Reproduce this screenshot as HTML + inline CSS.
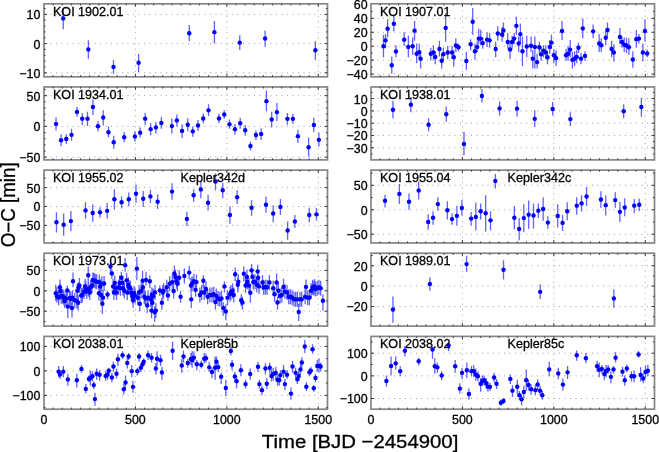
<!DOCTYPE html>
<html><head><meta charset="utf-8"><style>html,body{margin:0;padding:0;background:#fff;width:659px;height:452px;overflow:hidden}svg{display:block;filter:blur(0.35px)}</style></head>
<body><svg width="659" height="452" viewBox="0 0 659 452">
<rect width="659" height="452" fill="#fff"/>
<path d="M45 72.8H326.5M45 43.6H326.5M45 14.4H326.5M135.41 4.8V75.8M226.83 4.8V75.8M318.25 4.8V75.8M45 157.15H326.5M45 126.4H326.5M45 95.65H326.5M135.41 87.95V158.9M226.83 87.95V158.9M318.25 87.95V158.9M45 225.4H326.5M45 206.5H326.5M45 187.6H326.5M135.41 171.1V242M226.83 171.1V242M318.25 171.1V242M45 311.2H326.5M45 290.8H326.5M45 270.4H326.5M135.41 254.25V325.1M226.83 254.25V325.1M318.25 254.25V325.1M45 395.4H326.5M45 370.9H326.5M45 346.4H326.5M135.41 337.4V408.2M226.83 337.4V408.2M318.25 337.4V408.2M372 74.1H653.5M372 60.15H653.5M372 46.2H653.5M372 32.25H653.5M372 18.3H653.5M462.41 4.8V75.8M553.83 4.8V75.8M645.25 4.8V75.8M372 147.8H653.5M372 135.5H653.5M372 123.2H653.5M372 110.9H653.5M372 98.6H653.5M462.41 87.95V158.9M553.83 87.95V158.9M645.25 87.95V158.9M372 234.2H653.5M372 209.75H653.5M372 185.3H653.5M462.41 171.1V242M553.83 171.1V242M645.25 171.1V242M372 306.5H653.5M372 286.1H653.5M372 265.7H653.5M462.41 254.25V325.1M553.83 254.25V325.1M645.25 254.25V325.1M372 398.5H653.5M372 375.85H653.5M372 353.2H653.5M462.41 337.4V408.2M553.83 337.4V408.2M645.25 337.4V408.2" stroke="#a0a0a0" stroke-width="1" stroke-dasharray="1 4.5" fill="none"/>
<path d="M63.23 8.12V29.32M88.36 40.24V58.82M113.49 59.91V73.68M138.62 53.79V71.93M189.28 24.95V41.34M214.41 21.01V43.52M239.76 35.22V50.08M265.11 30.41V46.8M315.37 40.9V59.91M56.02 117.34V130.45M61.05 134.17V146.19M66.29 134.17V144M71.53 128.71V140.73M77 106.85V116.69M82.24 112.97V124.99M87.49 111.66V126.08M92.95 99.2V114.94M97.98 121.06V131.33M103.22 110.13V125.43M108.47 126.52V137.45M113.71 135.7V148.81M124.2 131.98V142.26M134.91 131.33V141.82M140.15 127.61V137.45M145.18 112.75V124.99M150.64 123.24V135.26M155.89 121.71V133.51M161.35 117.12V128.71M171.84 118.44V133.51M176.87 114.5V126.52M182.11 124.34V138.1M187.75 118.22V131.33M192.77 126.52V136.79M198.02 119.97V130.89M203.26 113.85V123.24M208.51 104.23V116.03M219 113.85V123.24M224.24 110.13V118.87M229.49 119.53V128.71M234.95 123.9V134.83M240.2 117.78V128.71M245.22 124.99V135.7M250.47 141.38V150.56M255.93 130.45V140.07M261.17 128.27V140.07M266.42 90.46V111.22M271.66 111.66V127.61M276.91 102.92V121.06M287.4 112.97V124.77M292.86 113.85V123.9M297.89 129.8V142.91M308.6 137.45V156.68M313.84 117.78V131.98M318.87 132.64V146.63M56.46 212.36V232.47M63.67 213.45V235.74M70.88 211.05V231.37M85.52 202.31V218.7M92.73 204.49V221.76M99.94 207.34V217.83M107.16 202.97V218.7M114.37 189.2V209.52M121.58 196.41V208.43M128.79 192.48V206.24M136 184.39V202.97M143.21 190.95V206.9M150.42 189.85V202.97M157.64 194.22V209.08M172.06 183.3V199.69M186.87 211.71V225.91M193.65 189.2V201.87M200.86 181.55V198.16M208.07 194.66V210.61M215.5 173.46V190.29M222.71 182.86V198.16M229.92 206.24V223.73M237.14 190.29V204.06M251.56 200.34V215.64M265.98 196.41V212.8M273.19 205.15V222.2M280.41 199.03V214.98M287.62 221.54V239.68M294.83 214.98V228.1M309.25 207.77V222.2M316.46 207.99V220.45M55.74 284.68V301.09M56.95 287.27V302.81M58.68 290.13V305.13M59.89 279.5V294.18M60.41 283.57V298.57M61.27 288.75V303.75M62.65 288.75V303.75M63.86 290.13V305.13M64.73 294.18V307.99M66.11 291V306M67.32 285.54V295.91M67.83 300.22V318.36M69.56 290.48V305.48M70.77 291.51V306.51M71.98 302.81V317.49M72.5 290.13V305.13M73.02 272.59V287.27M74.74 292.72V307.72M76.82 293.59V308.59M77.33 283.22V298.22M78.2 295.31V310.31M78.54 282.09V292.45M79.41 278.04V293.04M81.13 288.06V303.06M82.34 287.54V302.54M84.07 284.09V299.09M85.11 278.91V293.91M85.8 280.63V295.63M86.83 284.09V299.09M88.21 266.54V283.82M88.56 281.84V296.84M89.77 284.95V299.95M90.63 279.77V294.77M92.01 278.04V293.04M92.88 272.52V287.52M94.09 272.86V287.86M95.3 273.72V288.72M96.68 274.24V289.24M98.92 285.81V300.81M99.27 274.59V289.59M100.13 278.91V293.91M100.99 287.54V302.54M101.86 276.32V291.32M102.38 297.63V314.04M103.07 290.13V305.13M104.1 275.97V290.97M107.56 290.72V299.36M110.49 262.23V274.32M111.88 269.13V278.63M113.08 278.91V293.91M113.95 284.95V299.95M114.81 275.45V290.45M115.68 280.63V295.63M116.54 284.95V299.95M118.61 279.77V294.77M119.65 275.45V290.45M120.51 280.63V295.63M121.37 271.73V283.82M122.58 275.45V290.45M123.1 280.63V295.63M124.31 283.22V298.22M125.17 257.91V271.73M126.56 272.86V287.86M127.25 284.95V299.95M128.28 277.18V292.18M128.97 279.77V294.77M130.36 280.63V295.63M131.22 285.3V300.3M132.43 288.75V303.75M133.12 292.72V307.72M134.16 285.81V300.81M135.19 288.41V303.41M136.86 257.04V280.36M137.73 290.13V305.13M139.11 284.95V299.95M139.8 296.18V311.18M141.18 283.22V298.22M142.56 270.86V287.27M142.91 279.77V294.77M144.29 289.27V304.27M145.5 291V306M146.02 271.73V285.54M147.23 297.9V312.9M148.09 290.13V305.13M149.82 275.18V288.13M150.68 291.86V306.86M151.54 302.81V318.36M151.89 287.54V302.54M152.41 295.31V310.31M153.27 288.75V303.75M154.65 306.27V321.81M155.86 303.09V318.09M155 284.95V299.95M159.83 285.54V295.91M161.91 297.63V309.72M162.77 284.95V299.95M163.63 283.22V298.22M166.74 279.77V294.77M167.95 289.86V301.09M169.68 276.32V291.32M172.27 274.59V289.59M173.65 283.57V298.57M174.34 265.68V282.09M175.38 269.41V284.41M176.59 273.72V288.72M177.45 276.32V291.32M179.18 270.27V285.27M180.56 290.72V302.81M184.36 268.54V283.54M189.2 265.68V279.5M191.27 293.31V307.99M190.92 278.04V293.04M192.13 276.32V291.32M193.86 273.72V288.72M195.59 283.82V296.77M196.45 274.59V289.59M199.9 287.54V302.54M201.63 284.95V299.95M203.36 275.18V288.13M204.22 284.95V299.95M205.95 281.5V296.5M207.68 289.27V304.27M209.92 287.54V302.54M211.99 287.54V302.54M213.72 286.68V301.68M215.45 294.45V309.45M216.31 288.41V303.41M218.04 291V306M219.77 291.86V306.86M221.49 291V306M223.22 301.95V315.77M224.43 281.22V292.45M225.81 304.54V320.08M227.54 290.13V305.13M230.13 286.68V301.68M230.86 284.95V299.95M232.59 283.22V298.22M233.8 287.54V302.54M235.18 267.41V281.22M237.77 276.91V292.45M238.29 274.24V289.24M241.23 294.18V306.27M242.44 296.77V309.72M243.82 266.54V281.22M245.54 278.04V293.04M246.93 269.41V284.41M247.27 274.24V289.24M249 278.04V293.04M250.38 285.54V302.81M251.59 263.95V276.91M252.45 269.41V284.41M253.32 274.59V289.59M255.04 274.24V289.24M256.77 277.18V292.18M257.63 264.82V277.77M258.15 270.27V285.27M259.02 278.91V293.91M262.47 274.93V289.93M263.68 279.77V294.77M265.41 279.77V294.77M267.13 279.77V294.77M269.38 274.93V289.93M273.18 280.63V295.63M274.56 286.68V301.68M276.63 273.45V290.72M277.5 296.77V309.72M278.36 283.22V298.22M280.09 288.41V303.41M281.81 287.54V302.54M283.54 278.63V294.18M284.92 284.09V299.09M286.99 284.95V299.95M288.72 289.27V304.27M290.45 289.27V304.27M292.18 290.13V305.13M293.9 291.86V306.86M295.63 291.86V306.86M297.36 291.86V306.86M298.74 303.68V320.95M299.95 291.86V306.86M301.68 291.86V306.86M305.13 289.27V304.27M305.99 279.5V294.18M307.72 290.13V305.13M309.45 290.13V305.13M311.17 283.22V298.22M312.56 279.77V294.77M313.77 280.63V295.63M314.63 278.91V293.91M315.49 281.5V296.5M317.22 280.63V295.63M318.95 279.77V294.77M320.67 280.63V295.63M322.92 294.18V310.59M58.68 365.95V377.18M60.06 370.27V378.91M63.34 365.95V377.18M67.83 373.72V385.81M76.82 373.38V387.54M81.48 365.09V372.86M85.8 384.09V393.59M88.91 375.45V382.36M90.29 370.54V385.54M92.36 371.13V381.5M93.74 381.5V389.27M94.95 392.72V405.68M96.68 368.54V379.77M99.61 370.27V380.63M105.66 371.13V380.63M107.56 369.41V379.77M108.77 367.68V374.07M111.88 372.86V382.36M113.43 361.63V372M116.54 368.54V378.56M117.92 353.86V365.95M122.58 351.27V359.04M123.79 384.09V394.45M125.52 375.45V389.27M127.25 358.18V368.54M128.63 353V359.91M131.74 365.09V377.18M132.95 380.63V392.72M137.38 367.68V375.45M139.11 353V361.63M140.84 364.22V372M142.56 360.77V368.54M143.77 358.18V365.09M148.09 350.41V359.91M151.54 353V362.5M155.86 363.36V374.59M157.07 351.27V365.95M160.53 354.73V365.95M161.91 366.82V379.77M172.61 341.77V359.91M181.77 359.04V372.86M183.5 350.41V362.5M187.81 359.04V367.68M190.92 353V365.09M192.13 351.27V367.68M193.86 351.27V363.36M196.79 359.91V370.27M201.28 360.77V368.54M204.22 353V363.36M205.95 353.86V362.5M209.23 361.63V372M211.99 367.68V378.04M215.1 356.45V379.77M216.48 356.45V367.68M218.21 363.36V372M221.15 372.86V384.09M225.81 379.77V396.18M230.86 346.95V355.59M232.07 359.91V370.27M234.84 372V381.5M236.56 376.31V388.4M240.88 364.22V376.31M245.54 379.77V388.4M250.21 368.54V379.77M257.98 361.63V372M259.36 379.77V388.4M261.95 385.81V395.31M265.41 363.36V374.59M266.79 378.04V389.27M269.72 362.5V373.72M271.45 369.41V381.5M273.18 367.68V380.63M275.77 366.82V378.91M277.5 374.59V385.81M279.22 375.45V385.81M280.43 370.27V379.77M283.54 365.09V378.04M284.92 378.91V390.13M286.99 370.27V378.91M290.97 387.54V399.63M292.52 360.77V372.86M295.63 367.68V378.04M297.36 375.45V384.09M298.74 371.13V380.63M300.47 364.22V374.59M301.85 357.32V367.68M304.78 340.04V353M306.34 382.36V390.99M309.45 368.54V376.31M310.83 366.82V374.59M312.56 344.36V353.86M313.77 384.95V391.86M315.49 373.72V382.36M317.22 359.91V372M318.95 358.18V372.86M320.67 362.5V371.13M383.47 34.82V57.27M385.54 33.95V48.29M387.62 19.27V37.41M391.76 56.4V73.68M393.83 15.82V31.36M395.91 45.18V57.61M404.2 32.22V46.04M408.34 35.68V57.27M412.66 37.41V54.68M414.56 21V40.86M416.63 43.45V63.31M419.22 43.45V58.99M420.6 52.09V68.49M430.79 47.77V60.38M433.39 45.18V59.86M435.28 51.22V64.18M439.43 40.86V56.4M441.68 53.81V68.49M443.4 47.77V60.72M445.65 13.23V41.72M447.72 46.04V58.99M452.04 46.04V58.99M453.77 50.36V66.77M455.84 38.27V52.09M458.43 43.45V51.22M466.32 52.09V69.7M470.64 39.13V50.36M472.71 8.04V34.82M474.95 43.45V59.86M477.2 40.86V52.09M478.75 28.77V44.31M480.65 29.63V45.18M482.73 37.41V48.63M487.04 32.22V46.91M489.63 33.09V47.77M495.68 41.72V57.27M497.75 26.18V40.86M502.07 27.04V41.72M503.45 22.38V37.41M507.77 33.09V48.63M510.01 42.59V58.99M512.09 35.68V48.63M514.16 33.09V44.31M516.4 16.68V34.82M518.65 36.54V52.09M520.38 23.59V43.45M522.45 36.54V65.9M526.77 35.68V57.27M531.08 36.54V52.09M532.81 50.36V68.49M534.88 36.54V68.49M537.13 53.81V68.49M539.37 41.72V53.81M541.1 47.77V60.72M543.52 45.18V57.27M545.77 45.18V58.99M547.49 51.22V64.18M549.74 40V53.81M551.46 34.82V48.63M553.88 49.5V63.31M556.13 50.36V65.9M562.04 21V40M566.02 48.63V60.72M568.09 46.04V60.72M570.16 40V57.27M572.41 52.09V68.49M574.65 51.22V65.9M576.73 50.36V63.31M578.45 42.59V52.95M581.04 52.95V64.18M582.77 18.41V38.27M585.02 51.22V60.72M593.13 24.45V38.27M599.18 33.95V52.09M601.25 38.27V52.09M605.74 30.5V45.18M607.47 22.38V36.54M611.61 40.86V57.27M613.86 44.31V61.59M619.9 27.91V44.31M621.98 36.54V47.77M624.22 37.41V52.09M626.47 37.41V52.95M628.88 38.27V54.68M632.86 51.22V67.63M636.31 29.98V47.77M638.9 33.95V43.45M642.87 43.45V61.59M644.95 19.27V41.72M647.19 49.5V57.27M392.95 100.73V118.22M410.87 97.02V112.32M428.57 118.22V131.33M446.27 106.85V121.71M463.97 131.98V155.37M481.89 88.93V102.48M499.59 101.39V115.59M517.03 100.73V116.69M534.73 110.13V126.96M552.65 102.05V115.59M570.35 112.32V126.08M623.67 104.23V118.22M641.37 97.67V116.69M385.03 194.77V207.38M399.36 183.89V203.92M409.03 193.56V209.8M418.7 181.47V199.61M428.2 214.29V229.83M433.04 211.18V224.65M437.88 197.36V210.83M447.37 201.16V219.47M452.04 213.25V224.65M456.87 205.65V225.86M461.88 199.95V215.5M471.15 212.04V225.86M475.82 202.54V230.52M480.65 203.41V219.47M485.66 195.29V231.56M490.5 211.18V230.18M495.33 174.04V188.38M514.33 206V229.31M519.17 218.09V240.19M523.83 204.27V232.25M528.67 200.47V228.79M533.5 203.41V228.45M538.34 203.41V218.09M543.17 197.36V220.68M547.84 216.36V228.79M557.73 204.27V227.59M562.56 214.63V231.04M567.23 202.2V220.16M576.73 197.36V214.63M581.56 195.29V211.52M586.57 187V206M600.91 191.32V207.72M605.74 195.29V215.5M615.24 192.18V207.72M619.9 201.68V221.89M624.74 198.22V216.36M634.24 199.09V213.25M639.25 198.74V211.18M392.95 296.45V322.68M429.88 277.22V290.77M466.59 255.81V271.98M503.52 260.18V279.41M540.19 284.22V299.08M613.84 289.24V307.82M386.41 375.45V386.68M391.07 356.45V375.45M395.73 356.45V369.41M400.22 365.95V376.31M404.89 345.74V356.45M418.7 357.83V365.43M432.52 346.95V359.04M434.77 358.18V373.72M437.36 362.5V372.86M441.68 371.13V380.29M448.58 342.64V350.93M455.15 359.91V372.86M459.81 383.22V393.59M462.06 367.68V379.25M466.84 362.5V378.04M468.91 388.4V399.63M471.5 365.95V376.31M473.74 365.09V377.18M475.82 368.54V380.63M477.89 371.13V381.5M480.65 378.04V391.86M482.38 375.45V385.81M484.11 375.45V385.47M486.18 378.04V388.4M487.91 381.5V391.86M489.98 382.7V390.99M494.12 372.86V382.36M496.54 378.91V388.92M500.86 399.63V405.68M503.45 397.9V403.95M510.36 374.59V384.09M512.43 384.95V397.04M517.27 379.77V393.59M519.34 390.99V399.63M521.59 394.45V405.16M523.83 385.81V398.25M526.25 369.41V390.99M528.49 379.77V390.13M531.08 384.09V394.79M535.4 384.95V395.31M537.65 379.25V390.13M540.07 385.81V395.31M542.31 390.99V399.63M549.22 361.63V376.31M558.25 367.68V379.25M562.91 378.56V390.65M567.57 365.95V378.91M576.73 350.41V360.77M585.88 353V363.36M597.11 360.77V372M599.18 362.5V377.18M601.77 365.09V373.72M604.36 368.54V380.29M606.09 365.09V377.18M608.16 365.09V373.72M610.92 371.13V383.22M613.51 365.95V373.38M615.59 352.13V362.5M622.49 366.82V376.83M624.74 375.45V385.81M626.81 364.74V372.34M631.47 371.13V381.5M634.07 370.27V382.36M638.56 350.93V357.83M640.63 367.16V381.5M643.22 373.72V383.22M645.46 365.43V378.04M647.88 364.74V376.31" stroke="#6262ff" stroke-width="1.3" fill="none"/>
<g fill="#0000ff"><circle cx="63.23" cy="18.39" r="2.2"/><circle cx="88.36" cy="49.42" r="2.2"/><circle cx="113.49" cy="66.9" r="2.2"/><circle cx="138.62" cy="62.75" r="2.2"/><circle cx="189.28" cy="33.25" r="2.2"/><circle cx="214.41" cy="32.16" r="2.2"/><circle cx="239.76" cy="42.65" r="2.2"/><circle cx="265.11" cy="38.49" r="2.2"/><circle cx="315.37" cy="50.3" r="2.2"/><circle cx="56.02" cy="123.9" r="2.2"/><circle cx="61.05" cy="140.29" r="2.2"/><circle cx="66.29" cy="138.98" r="2.2"/><circle cx="71.53" cy="134.83" r="2.2"/><circle cx="77" cy="111.88" r="2.2"/><circle cx="82.24" cy="118.65" r="2.2"/><circle cx="87.49" cy="118.65" r="2.2"/><circle cx="92.95" cy="107.07" r="2.2"/><circle cx="97.98" cy="126.3" r="2.2"/><circle cx="103.22" cy="117.56" r="2.2"/><circle cx="108.47" cy="132.2" r="2.2"/><circle cx="113.71" cy="142.26" r="2.2"/><circle cx="124.2" cy="137.23" r="2.2"/><circle cx="134.91" cy="136.57" r="2.2"/><circle cx="140.15" cy="132.64" r="2.2"/><circle cx="145.18" cy="118.65" r="2.2"/><circle cx="150.64" cy="129.14" r="2.2"/><circle cx="155.89" cy="127.4" r="2.2"/><circle cx="161.35" cy="123.02" r="2.2"/><circle cx="171.84" cy="126.08" r="2.2"/><circle cx="176.87" cy="120.4" r="2.2"/><circle cx="182.11" cy="130.89" r="2.2"/><circle cx="187.75" cy="124.77" r="2.2"/><circle cx="192.77" cy="131.33" r="2.2"/><circle cx="198.02" cy="125.43" r="2.2"/><circle cx="203.26" cy="118.44" r="2.2"/><circle cx="208.51" cy="110.35" r="2.2"/><circle cx="219" cy="118.44" r="2.2"/><circle cx="224.24" cy="114.5" r="2.2"/><circle cx="229.49" cy="124.34" r="2.2"/><circle cx="234.95" cy="129.14" r="2.2"/><circle cx="240.2" cy="123.24" r="2.2"/><circle cx="245.22" cy="130.24" r="2.2"/><circle cx="250.47" cy="145.97" r="2.2"/><circle cx="255.93" cy="135.04" r="2.2"/><circle cx="261.17" cy="133.95" r="2.2"/><circle cx="266.42" cy="101.17" r="2.2"/><circle cx="271.66" cy="119.53" r="2.2"/><circle cx="276.91" cy="112.1" r="2.2"/><circle cx="287.4" cy="118.87" r="2.2"/><circle cx="292.86" cy="118.87" r="2.2"/><circle cx="297.89" cy="136.14" r="2.2"/><circle cx="308.6" cy="147.28" r="2.2"/><circle cx="313.84" cy="124.99" r="2.2"/><circle cx="318.87" cy="139.85" r="2.2"/><circle cx="56.46" cy="222.2" r="2.2"/><circle cx="63.67" cy="224.82" r="2.2"/><circle cx="70.88" cy="221.1" r="2.2"/><circle cx="85.52" cy="210.4" r="2.2"/><circle cx="92.73" cy="213.02" r="2.2"/><circle cx="99.94" cy="212.36" r="2.2"/><circle cx="107.16" cy="210.83" r="2.2"/><circle cx="114.37" cy="199.25" r="2.2"/><circle cx="121.58" cy="202.31" r="2.2"/><circle cx="128.79" cy="199.25" r="2.2"/><circle cx="136" cy="193.79" r="2.2"/><circle cx="143.21" cy="198.81" r="2.2"/><circle cx="150.42" cy="196.41" r="2.2"/><circle cx="157.64" cy="201.65" r="2.2"/><circle cx="172.06" cy="191.6" r="2.2"/><circle cx="186.87" cy="218.92" r="2.2"/><circle cx="193.65" cy="195.32" r="2.2"/><circle cx="200.86" cy="189.42" r="2.2"/><circle cx="208.07" cy="202.75" r="2.2"/><circle cx="215.5" cy="181.55" r="2.2"/><circle cx="222.71" cy="190.29" r="2.2"/><circle cx="229.92" cy="214.98" r="2.2"/><circle cx="237.14" cy="197.28" r="2.2"/><circle cx="251.56" cy="207.77" r="2.2"/><circle cx="265.98" cy="204.71" r="2.2"/><circle cx="273.19" cy="213.45" r="2.2"/><circle cx="280.41" cy="206.9" r="2.2"/><circle cx="287.62" cy="230.5" r="2.2"/><circle cx="294.83" cy="221.54" r="2.2"/><circle cx="309.25" cy="214.98" r="2.2"/><circle cx="316.46" cy="214.33" r="2.2"/><circle cx="55.74" cy="293.31" r="2.2"/><circle cx="56.95" cy="296.25" r="2.2"/><circle cx="58.68" cy="297.63" r="2.2"/><circle cx="59.89" cy="287.27" r="2.2"/><circle cx="60.41" cy="291.07" r="2.2"/><circle cx="61.27" cy="296.25" r="2.2"/><circle cx="62.65" cy="296.25" r="2.2"/><circle cx="63.86" cy="297.63" r="2.2"/><circle cx="64.73" cy="301.09" r="2.2"/><circle cx="66.11" cy="298.5" r="2.2"/><circle cx="67.32" cy="290.38" r="2.2"/><circle cx="67.83" cy="306.61" r="2.2"/><circle cx="69.56" cy="297.98" r="2.2"/><circle cx="70.77" cy="299.01" r="2.2"/><circle cx="71.98" cy="307.99" r="2.2"/><circle cx="72.5" cy="297.63" r="2.2"/><circle cx="73.02" cy="281.22" r="2.2"/><circle cx="74.74" cy="300.22" r="2.2"/><circle cx="76.82" cy="301.09" r="2.2"/><circle cx="77.33" cy="290.72" r="2.2"/><circle cx="78.2" cy="302.81" r="2.2"/><circle cx="78.54" cy="287.27" r="2.2"/><circle cx="79.41" cy="285.54" r="2.2"/><circle cx="81.13" cy="295.56" r="2.2"/><circle cx="82.34" cy="295.04" r="2.2"/><circle cx="84.07" cy="291.59" r="2.2"/><circle cx="85.11" cy="286.41" r="2.2"/><circle cx="85.8" cy="288.13" r="2.2"/><circle cx="86.83" cy="291.59" r="2.2"/><circle cx="88.21" cy="275.18" r="2.2"/><circle cx="88.56" cy="289.34" r="2.2"/><circle cx="89.77" cy="292.45" r="2.2"/><circle cx="90.63" cy="287.27" r="2.2"/><circle cx="92.01" cy="285.54" r="2.2"/><circle cx="92.88" cy="280.02" r="2.2"/><circle cx="94.09" cy="280.36" r="2.2"/><circle cx="95.3" cy="281.22" r="2.2"/><circle cx="96.68" cy="281.74" r="2.2"/><circle cx="98.92" cy="293.31" r="2.2"/><circle cx="99.27" cy="282.09" r="2.2"/><circle cx="100.13" cy="286.41" r="2.2"/><circle cx="100.99" cy="295.04" r="2.2"/><circle cx="101.86" cy="283.82" r="2.2"/><circle cx="102.38" cy="303.68" r="2.2"/><circle cx="103.07" cy="297.63" r="2.2"/><circle cx="104.1" cy="283.47" r="2.2"/><circle cx="107.56" cy="294.52" r="2.2"/><circle cx="110.49" cy="266.54" r="2.2"/><circle cx="111.88" cy="273.45" r="2.2"/><circle cx="113.08" cy="286.41" r="2.2"/><circle cx="113.95" cy="292.45" r="2.2"/><circle cx="114.81" cy="282.95" r="2.2"/><circle cx="115.68" cy="288.13" r="2.2"/><circle cx="116.54" cy="292.45" r="2.2"/><circle cx="118.61" cy="287.27" r="2.2"/><circle cx="119.65" cy="282.95" r="2.2"/><circle cx="120.51" cy="288.13" r="2.2"/><circle cx="121.37" cy="277.77" r="2.2"/><circle cx="122.58" cy="282.95" r="2.2"/><circle cx="123.1" cy="288.13" r="2.2"/><circle cx="124.31" cy="290.72" r="2.2"/><circle cx="125.17" cy="265.16" r="2.2"/><circle cx="126.56" cy="280.36" r="2.2"/><circle cx="127.25" cy="292.45" r="2.2"/><circle cx="128.28" cy="284.68" r="2.2"/><circle cx="128.97" cy="287.27" r="2.2"/><circle cx="130.36" cy="288.13" r="2.2"/><circle cx="131.22" cy="292.8" r="2.2"/><circle cx="132.43" cy="296.25" r="2.2"/><circle cx="133.12" cy="300.22" r="2.2"/><circle cx="134.16" cy="293.31" r="2.2"/><circle cx="135.19" cy="295.91" r="2.2"/><circle cx="136.86" cy="268.62" r="2.2"/><circle cx="137.73" cy="297.63" r="2.2"/><circle cx="139.11" cy="292.45" r="2.2"/><circle cx="139.8" cy="303.68" r="2.2"/><circle cx="141.18" cy="290.72" r="2.2"/><circle cx="142.56" cy="280.71" r="2.2"/><circle cx="142.91" cy="287.27" r="2.2"/><circle cx="144.29" cy="296.77" r="2.2"/><circle cx="145.5" cy="298.5" r="2.2"/><circle cx="146.02" cy="280.02" r="2.2"/><circle cx="147.23" cy="305.4" r="2.2"/><circle cx="148.09" cy="297.63" r="2.2"/><circle cx="149.82" cy="281.22" r="2.2"/><circle cx="150.68" cy="299.36" r="2.2"/><circle cx="151.54" cy="310.59" r="2.2"/><circle cx="151.89" cy="295.04" r="2.2"/><circle cx="152.41" cy="302.81" r="2.2"/><circle cx="153.27" cy="296.25" r="2.2"/><circle cx="154.65" cy="312.31" r="2.2"/><circle cx="155.86" cy="310.59" r="2.2"/><circle cx="155" cy="292.45" r="2.2"/><circle cx="159.83" cy="290.38" r="2.2"/><circle cx="161.91" cy="302.81" r="2.2"/><circle cx="162.77" cy="292.45" r="2.2"/><circle cx="163.63" cy="290.72" r="2.2"/><circle cx="166.74" cy="287.27" r="2.2"/><circle cx="167.95" cy="295.56" r="2.2"/><circle cx="169.68" cy="283.82" r="2.2"/><circle cx="172.27" cy="282.09" r="2.2"/><circle cx="173.65" cy="291.07" r="2.2"/><circle cx="174.34" cy="273.45" r="2.2"/><circle cx="175.38" cy="276.91" r="2.2"/><circle cx="176.59" cy="281.22" r="2.2"/><circle cx="177.45" cy="283.82" r="2.2"/><circle cx="179.18" cy="277.77" r="2.2"/><circle cx="180.56" cy="296.77" r="2.2"/><circle cx="184.36" cy="276.04" r="2.2"/><circle cx="189.2" cy="272.59" r="2.2"/><circle cx="191.27" cy="299.36" r="2.2"/><circle cx="190.92" cy="285.54" r="2.2"/><circle cx="192.13" cy="283.82" r="2.2"/><circle cx="193.86" cy="281.22" r="2.2"/><circle cx="195.59" cy="289.86" r="2.2"/><circle cx="196.45" cy="282.09" r="2.2"/><circle cx="199.9" cy="295.04" r="2.2"/><circle cx="201.63" cy="292.45" r="2.2"/><circle cx="203.36" cy="280.71" r="2.2"/><circle cx="204.22" cy="292.45" r="2.2"/><circle cx="205.95" cy="289" r="2.2"/><circle cx="207.68" cy="296.77" r="2.2"/><circle cx="209.92" cy="295.04" r="2.2"/><circle cx="211.99" cy="295.04" r="2.2"/><circle cx="213.72" cy="294.18" r="2.2"/><circle cx="215.45" cy="301.95" r="2.2"/><circle cx="216.31" cy="295.91" r="2.2"/><circle cx="218.04" cy="298.5" r="2.2"/><circle cx="219.77" cy="299.36" r="2.2"/><circle cx="221.49" cy="298.5" r="2.2"/><circle cx="223.22" cy="307.99" r="2.2"/><circle cx="224.43" cy="286.41" r="2.2"/><circle cx="225.81" cy="311.45" r="2.2"/><circle cx="227.54" cy="297.63" r="2.2"/><circle cx="230.13" cy="294.18" r="2.2"/><circle cx="230.86" cy="292.45" r="2.2"/><circle cx="232.59" cy="290.72" r="2.2"/><circle cx="233.8" cy="295.04" r="2.2"/><circle cx="235.18" cy="274.32" r="2.2"/><circle cx="237.77" cy="284.68" r="2.2"/><circle cx="238.29" cy="281.74" r="2.2"/><circle cx="241.23" cy="300.22" r="2.2"/><circle cx="242.44" cy="302.47" r="2.2"/><circle cx="243.82" cy="273.8" r="2.2"/><circle cx="245.54" cy="285.54" r="2.2"/><circle cx="246.93" cy="276.91" r="2.2"/><circle cx="247.27" cy="281.74" r="2.2"/><circle cx="249" cy="285.54" r="2.2"/><circle cx="250.38" cy="292.8" r="2.2"/><circle cx="251.59" cy="270.34" r="2.2"/><circle cx="252.45" cy="276.91" r="2.2"/><circle cx="253.32" cy="282.09" r="2.2"/><circle cx="255.04" cy="281.74" r="2.2"/><circle cx="256.77" cy="284.68" r="2.2"/><circle cx="257.63" cy="271.38" r="2.2"/><circle cx="258.15" cy="277.77" r="2.2"/><circle cx="259.02" cy="286.41" r="2.2"/><circle cx="262.47" cy="282.43" r="2.2"/><circle cx="263.68" cy="287.27" r="2.2"/><circle cx="265.41" cy="287.27" r="2.2"/><circle cx="267.13" cy="287.27" r="2.2"/><circle cx="269.38" cy="282.43" r="2.2"/><circle cx="273.18" cy="288.13" r="2.2"/><circle cx="274.56" cy="294.18" r="2.2"/><circle cx="276.63" cy="282.43" r="2.2"/><circle cx="277.5" cy="302.47" r="2.2"/><circle cx="278.36" cy="290.72" r="2.2"/><circle cx="280.09" cy="295.91" r="2.2"/><circle cx="281.81" cy="295.04" r="2.2"/><circle cx="283.54" cy="286.92" r="2.2"/><circle cx="284.92" cy="291.59" r="2.2"/><circle cx="286.99" cy="292.45" r="2.2"/><circle cx="288.72" cy="296.77" r="2.2"/><circle cx="290.45" cy="296.77" r="2.2"/><circle cx="292.18" cy="297.63" r="2.2"/><circle cx="293.9" cy="299.36" r="2.2"/><circle cx="295.63" cy="299.36" r="2.2"/><circle cx="297.36" cy="299.36" r="2.2"/><circle cx="298.74" cy="311.97" r="2.2"/><circle cx="299.95" cy="299.36" r="2.2"/><circle cx="301.68" cy="299.36" r="2.2"/><circle cx="305.13" cy="296.77" r="2.2"/><circle cx="305.99" cy="286.92" r="2.2"/><circle cx="307.72" cy="297.63" r="2.2"/><circle cx="309.45" cy="297.63" r="2.2"/><circle cx="311.17" cy="290.72" r="2.2"/><circle cx="312.56" cy="287.27" r="2.2"/><circle cx="313.77" cy="288.13" r="2.2"/><circle cx="314.63" cy="286.41" r="2.2"/><circle cx="315.49" cy="289" r="2.2"/><circle cx="317.22" cy="288.13" r="2.2"/><circle cx="318.95" cy="287.27" r="2.2"/><circle cx="320.67" cy="288.13" r="2.2"/><circle cx="322.92" cy="300.74" r="2.2"/><circle cx="58.68" cy="371.65" r="2.2"/><circle cx="60.06" cy="374.59" r="2.2"/><circle cx="63.34" cy="371.65" r="2.2"/><circle cx="67.83" cy="379.42" r="2.2"/><circle cx="76.82" cy="380.29" r="2.2"/><circle cx="81.48" cy="369.06" r="2.2"/><circle cx="85.8" cy="388.92" r="2.2"/><circle cx="88.91" cy="378.91" r="2.2"/><circle cx="90.29" cy="378.04" r="2.2"/><circle cx="92.36" cy="376.31" r="2.2"/><circle cx="93.74" cy="385.12" r="2.2"/><circle cx="94.95" cy="399.11" r="2.2"/><circle cx="96.68" cy="373.72" r="2.2"/><circle cx="99.61" cy="374.76" r="2.2"/><circle cx="105.66" cy="375.97" r="2.2"/><circle cx="107.56" cy="374.76" r="2.2"/><circle cx="108.77" cy="370.79" r="2.2"/><circle cx="111.88" cy="377.52" r="2.2"/><circle cx="113.43" cy="366.47" r="2.2"/><circle cx="116.54" cy="373.72" r="2.2"/><circle cx="117.92" cy="359.22" r="2.2"/><circle cx="122.58" cy="355.24" r="2.2"/><circle cx="123.79" cy="389.27" r="2.2"/><circle cx="125.52" cy="382.53" r="2.2"/><circle cx="127.25" cy="363.02" r="2.2"/><circle cx="128.63" cy="356.45" r="2.2"/><circle cx="131.74" cy="371.13" r="2.2"/><circle cx="132.95" cy="386.85" r="2.2"/><circle cx="137.38" cy="371.13" r="2.2"/><circle cx="139.11" cy="356.45" r="2.2"/><circle cx="140.84" cy="367.68" r="2.2"/><circle cx="142.56" cy="364.22" r="2.2"/><circle cx="143.77" cy="361.63" r="2.2"/><circle cx="148.09" cy="355.24" r="2.2"/><circle cx="151.54" cy="357.66" r="2.2"/><circle cx="155.86" cy="368.54" r="2.2"/><circle cx="157.07" cy="358.7" r="2.2"/><circle cx="160.53" cy="360.25" r="2.2"/><circle cx="161.91" cy="372.51" r="2.2"/><circle cx="172.61" cy="350.75" r="2.2"/><circle cx="181.77" cy="365.43" r="2.2"/><circle cx="183.5" cy="356.45" r="2.2"/><circle cx="187.81" cy="363.02" r="2.2"/><circle cx="190.92" cy="359.04" r="2.2"/><circle cx="192.13" cy="359.91" r="2.2"/><circle cx="193.86" cy="357.66" r="2.2"/><circle cx="196.79" cy="364.22" r="2.2"/><circle cx="201.28" cy="364.74" r="2.2"/><circle cx="204.22" cy="358.7" r="2.2"/><circle cx="205.95" cy="358.18" r="2.2"/><circle cx="209.23" cy="367.33" r="2.2"/><circle cx="211.99" cy="372" r="2.2"/><circle cx="215.1" cy="367.68" r="2.2"/><circle cx="216.48" cy="361.63" r="2.2"/><circle cx="218.21" cy="367.16" r="2.2"/><circle cx="221.15" cy="376.66" r="2.2"/><circle cx="225.81" cy="388.06" r="2.2"/><circle cx="230.86" cy="350.93" r="2.2"/><circle cx="232.07" cy="364.74" r="2.2"/><circle cx="234.84" cy="376.49" r="2.2"/><circle cx="236.56" cy="381.15" r="2.2"/><circle cx="240.88" cy="370.27" r="2.2"/><circle cx="245.54" cy="384.09" r="2.2"/><circle cx="250.21" cy="374.07" r="2.2"/><circle cx="257.98" cy="366.82" r="2.2"/><circle cx="259.36" cy="384.09" r="2.2"/><circle cx="261.95" cy="390.13" r="2.2"/><circle cx="265.41" cy="368.54" r="2.2"/><circle cx="266.79" cy="383.74" r="2.2"/><circle cx="269.72" cy="367.68" r="2.2"/><circle cx="271.45" cy="375.97" r="2.2"/><circle cx="273.18" cy="374.07" r="2.2"/><circle cx="275.77" cy="372.86" r="2.2"/><circle cx="277.5" cy="379.77" r="2.2"/><circle cx="279.22" cy="380.29" r="2.2"/><circle cx="280.43" cy="375.11" r="2.2"/><circle cx="283.54" cy="371.65" r="2.2"/><circle cx="284.92" cy="384.09" r="2.2"/><circle cx="286.99" cy="374.76" r="2.2"/><circle cx="290.97" cy="393.59" r="2.2"/><circle cx="292.52" cy="366.47" r="2.2"/><circle cx="295.63" cy="372.86" r="2.2"/><circle cx="297.36" cy="379.25" r="2.2"/><circle cx="298.74" cy="375.97" r="2.2"/><circle cx="300.47" cy="369.41" r="2.2"/><circle cx="301.85" cy="362.5" r="2.2"/><circle cx="304.78" cy="346.44" r="2.2"/><circle cx="306.34" cy="386.68" r="2.2"/><circle cx="309.45" cy="372.34" r="2.2"/><circle cx="310.83" cy="370.61" r="2.2"/><circle cx="312.56" cy="349.2" r="2.2"/><circle cx="313.77" cy="388.23" r="2.2"/><circle cx="315.49" cy="378.04" r="2.2"/><circle cx="317.22" cy="365.95" r="2.2"/><circle cx="318.95" cy="365.95" r="2.2"/><circle cx="320.67" cy="366.47" r="2.2"/><circle cx="383.47" cy="46.21" r="2.2"/><circle cx="385.54" cy="40.34" r="2.2"/><circle cx="387.62" cy="28.77" r="2.2"/><circle cx="391.76" cy="65.21" r="2.2"/><circle cx="393.83" cy="23.76" r="2.2"/><circle cx="395.91" cy="51.4" r="2.2"/><circle cx="404.2" cy="39.65" r="2.2"/><circle cx="408.34" cy="46.91" r="2.2"/><circle cx="412.66" cy="46.21" r="2.2"/><circle cx="414.56" cy="30.67" r="2.2"/><circle cx="416.63" cy="53.81" r="2.2"/><circle cx="419.22" cy="52.09" r="2.2"/><circle cx="420.6" cy="58.65" r="2.2"/><circle cx="430.79" cy="53.81" r="2.2"/><circle cx="433.39" cy="52.43" r="2.2"/><circle cx="435.28" cy="56.92" r="2.2"/><circle cx="439.43" cy="48.98" r="2.2"/><circle cx="441.68" cy="60.72" r="2.2"/><circle cx="443.4" cy="54.16" r="2.2"/><circle cx="445.65" cy="27.91" r="2.2"/><circle cx="447.72" cy="52.43" r="2.2"/><circle cx="452.04" cy="52.43" r="2.2"/><circle cx="453.77" cy="57.27" r="2.2"/><circle cx="455.84" cy="45.52" r="2.2"/><circle cx="458.43" cy="47.25" r="2.2"/><circle cx="466.32" cy="61.07" r="2.2"/><circle cx="470.64" cy="44.31" r="2.2"/><circle cx="472.71" cy="21.69" r="2.2"/><circle cx="474.95" cy="51.22" r="2.2"/><circle cx="477.2" cy="46.91" r="2.2"/><circle cx="478.75" cy="38.61" r="2.2"/><circle cx="480.65" cy="38.61" r="2.2"/><circle cx="482.73" cy="43.11" r="2.2"/><circle cx="487.04" cy="39.65" r="2.2"/><circle cx="489.63" cy="40.34" r="2.2"/><circle cx="495.68" cy="48.98" r="2.2"/><circle cx="497.75" cy="33.43" r="2.2"/><circle cx="502.07" cy="34.47" r="2.2"/><circle cx="503.45" cy="30.5" r="2.2"/><circle cx="507.77" cy="42.07" r="2.2"/><circle cx="510.01" cy="49.5" r="2.2"/><circle cx="512.09" cy="42.07" r="2.2"/><circle cx="514.16" cy="38.61" r="2.2"/><circle cx="516.4" cy="25.83" r="2.2"/><circle cx="518.65" cy="43.45" r="2.2"/><circle cx="520.38" cy="34.12" r="2.2"/><circle cx="522.45" cy="51.22" r="2.2"/><circle cx="526.77" cy="46.56" r="2.2"/><circle cx="531.08" cy="45.7" r="2.2"/><circle cx="532.81" cy="58.65" r="2.2"/><circle cx="534.88" cy="46.91" r="2.2"/><circle cx="537.13" cy="62.1" r="2.2"/><circle cx="539.37" cy="47.25" r="2.2"/><circle cx="541.1" cy="54.33" r="2.2"/><circle cx="543.52" cy="50.7" r="2.2"/><circle cx="545.77" cy="52.43" r="2.2"/><circle cx="547.49" cy="57.27" r="2.2"/><circle cx="549.74" cy="46.91" r="2.2"/><circle cx="551.46" cy="42.59" r="2.2"/><circle cx="553.88" cy="55.2" r="2.2"/><circle cx="556.13" cy="58.13" r="2.2"/><circle cx="562.04" cy="31.02" r="2.2"/><circle cx="566.02" cy="55.2" r="2.2"/><circle cx="568.09" cy="53.81" r="2.2"/><circle cx="570.16" cy="49.67" r="2.2"/><circle cx="572.41" cy="59.86" r="2.2"/><circle cx="574.65" cy="58.65" r="2.2"/><circle cx="576.73" cy="56.92" r="2.2"/><circle cx="578.45" cy="47.77" r="2.2"/><circle cx="581.04" cy="58.65" r="2.2"/><circle cx="582.77" cy="28.42" r="2.2"/><circle cx="585.02" cy="55.89" r="2.2"/><circle cx="593.13" cy="31.36" r="2.2"/><circle cx="599.18" cy="43.45" r="2.2"/><circle cx="601.25" cy="45.18" r="2.2"/><circle cx="605.74" cy="37.75" r="2.2"/><circle cx="607.47" cy="29.98" r="2.2"/><circle cx="611.61" cy="48.98" r="2.2"/><circle cx="613.86" cy="52.43" r="2.2"/><circle cx="619.9" cy="37.06" r="2.2"/><circle cx="621.98" cy="42.07" r="2.2"/><circle cx="624.22" cy="44.83" r="2.2"/><circle cx="626.47" cy="45.52" r="2.2"/><circle cx="628.88" cy="47.25" r="2.2"/><circle cx="632.86" cy="59.51" r="2.2"/><circle cx="636.31" cy="39.13" r="2.2"/><circle cx="638.9" cy="38.61" r="2.2"/><circle cx="642.87" cy="52.43" r="2.2"/><circle cx="644.95" cy="31.02" r="2.2"/><circle cx="647.19" cy="53.47" r="2.2"/><circle cx="392.95" cy="109.69" r="2.2"/><circle cx="410.87" cy="104.67" r="2.2"/><circle cx="428.57" cy="124.77" r="2.2"/><circle cx="446.27" cy="114.28" r="2.2"/><circle cx="463.97" cy="144" r="2.2"/><circle cx="481.89" cy="95.93" r="2.2"/><circle cx="499.59" cy="108.38" r="2.2"/><circle cx="517.03" cy="108.6" r="2.2"/><circle cx="534.73" cy="118.87" r="2.2"/><circle cx="552.65" cy="109.04" r="2.2"/><circle cx="570.35" cy="119.09" r="2.2"/><circle cx="623.67" cy="111.22" r="2.2"/><circle cx="641.37" cy="107.07" r="2.2"/><circle cx="385.03" cy="200.82" r="2.2"/><circle cx="399.36" cy="193.91" r="2.2"/><circle cx="409.03" cy="201.68" r="2.2"/><circle cx="418.7" cy="190.45" r="2.2"/><circle cx="428.2" cy="222.06" r="2.2"/><circle cx="433.04" cy="217.74" r="2.2"/><circle cx="437.88" cy="204.1" r="2.2"/><circle cx="447.37" cy="210.31" r="2.2"/><circle cx="452.04" cy="219.12" r="2.2"/><circle cx="456.87" cy="215.84" r="2.2"/><circle cx="461.88" cy="208.07" r="2.2"/><circle cx="471.15" cy="218.6" r="2.2"/><circle cx="475.82" cy="216.88" r="2.2"/><circle cx="480.65" cy="211.18" r="2.2"/><circle cx="485.66" cy="213.25" r="2.2"/><circle cx="490.5" cy="220.33" r="2.2"/><circle cx="495.33" cy="180.95" r="2.2"/><circle cx="514.33" cy="217.74" r="2.2"/><circle cx="519.17" cy="228.97" r="2.2"/><circle cx="523.83" cy="218.09" r="2.2"/><circle cx="528.67" cy="214.63" r="2.2"/><circle cx="533.5" cy="215.5" r="2.2"/><circle cx="538.34" cy="210.66" r="2.2"/><circle cx="543.17" cy="208.93" r="2.2"/><circle cx="547.84" cy="222.58" r="2.2"/><circle cx="557.73" cy="216.01" r="2.2"/><circle cx="562.56" cy="222.92" r="2.2"/><circle cx="567.23" cy="211.18" r="2.2"/><circle cx="576.73" cy="205.65" r="2.2"/><circle cx="581.56" cy="203.41" r="2.2"/><circle cx="586.57" cy="196.5" r="2.2"/><circle cx="600.91" cy="199.43" r="2.2"/><circle cx="605.74" cy="205.13" r="2.2"/><circle cx="615.24" cy="200.12" r="2.2"/><circle cx="619.9" cy="211.87" r="2.2"/><circle cx="624.74" cy="207.55" r="2.2"/><circle cx="634.24" cy="205.65" r="2.2"/><circle cx="639.25" cy="204.79" r="2.2"/><circle cx="392.95" cy="309.57" r="2.2"/><circle cx="429.88" cy="284" r="2.2"/><circle cx="466.59" cy="264.11" r="2.2"/><circle cx="503.52" cy="269.79" r="2.2"/><circle cx="540.19" cy="291.87" r="2.2"/><circle cx="613.84" cy="298.42" r="2.2"/><circle cx="386.41" cy="380.98" r="2.2"/><circle cx="391.07" cy="365.95" r="2.2"/><circle cx="395.73" cy="363.36" r="2.2"/><circle cx="400.22" cy="371.13" r="2.2"/><circle cx="404.89" cy="350.75" r="2.2"/><circle cx="418.7" cy="361.29" r="2.2"/><circle cx="432.52" cy="349.54" r="2.2"/><circle cx="434.77" cy="366.3" r="2.2"/><circle cx="437.36" cy="367.33" r="2.2"/><circle cx="441.68" cy="375.45" r="2.2"/><circle cx="448.58" cy="345.23" r="2.2"/><circle cx="455.15" cy="366.3" r="2.2"/><circle cx="459.81" cy="388.58" r="2.2"/><circle cx="462.06" cy="372.86" r="2.2"/><circle cx="466.84" cy="370.27" r="2.2"/><circle cx="468.91" cy="393.93" r="2.2"/><circle cx="471.5" cy="371.13" r="2.2"/><circle cx="473.74" cy="371.13" r="2.2"/><circle cx="475.82" cy="374.59" r="2.2"/><circle cx="477.89" cy="376.31" r="2.2"/><circle cx="480.65" cy="383.74" r="2.2"/><circle cx="482.38" cy="380.98" r="2.2"/><circle cx="484.11" cy="380.29" r="2.2"/><circle cx="486.18" cy="383.22" r="2.2"/><circle cx="487.91" cy="386.68" r="2.2"/><circle cx="489.98" cy="386.85" r="2.2"/><circle cx="494.12" cy="377.52" r="2.2"/><circle cx="496.54" cy="383.74" r="2.2"/><circle cx="500.86" cy="402.74" r="2.2"/><circle cx="503.45" cy="401.01" r="2.2"/><circle cx="510.36" cy="378.91" r="2.2"/><circle cx="512.43" cy="390.65" r="2.2"/><circle cx="517.27" cy="386.68" r="2.2"/><circle cx="519.34" cy="395.14" r="2.2"/><circle cx="521.59" cy="399.28" r="2.2"/><circle cx="523.83" cy="392.03" r="2.2"/><circle cx="526.25" cy="380.29" r="2.2"/><circle cx="528.49" cy="384.95" r="2.2"/><circle cx="531.08" cy="389.27" r="2.2"/><circle cx="535.4" cy="390.13" r="2.2"/><circle cx="537.65" cy="384.43" r="2.2"/><circle cx="540.07" cy="390.65" r="2.2"/><circle cx="542.31" cy="395.31" r="2.2"/><circle cx="549.22" cy="369.41" r="2.2"/><circle cx="558.25" cy="373.38" r="2.2"/><circle cx="562.91" cy="384.6" r="2.2"/><circle cx="567.57" cy="372.34" r="2.2"/><circle cx="576.73" cy="355.24" r="2.2"/><circle cx="585.88" cy="358.18" r="2.2"/><circle cx="597.11" cy="366.3" r="2.2"/><circle cx="599.18" cy="369.75" r="2.2"/><circle cx="601.77" cy="369.06" r="2.2"/><circle cx="604.36" cy="374.07" r="2.2"/><circle cx="606.09" cy="371.13" r="2.2"/><circle cx="608.16" cy="369.41" r="2.2"/><circle cx="610.92" cy="376.83" r="2.2"/><circle cx="613.51" cy="369.41" r="2.2"/><circle cx="615.59" cy="357.66" r="2.2"/><circle cx="622.49" cy="371.65" r="2.2"/><circle cx="624.74" cy="380.29" r="2.2"/><circle cx="626.81" cy="368.54" r="2.2"/><circle cx="631.47" cy="376.31" r="2.2"/><circle cx="634.07" cy="376.31" r="2.2"/><circle cx="638.56" cy="354.38" r="2.2"/><circle cx="640.63" cy="374.93" r="2.2"/><circle cx="643.22" cy="378.56" r="2.2"/><circle cx="645.46" cy="372" r="2.2"/><circle cx="647.88" cy="370.79" r="2.2"/></g>
<g fill="none" stroke="#858585" stroke-width="1.7"><rect x="44" y="3.8" width="283.5" height="73"/><rect x="44" y="86.95" width="283.5" height="72.95"/><rect x="44" y="170.1" width="283.5" height="72.9"/><rect x="44" y="253.25" width="283.5" height="72.85"/><rect x="44" y="336.4" width="283.5" height="72.8"/><rect x="371" y="3.8" width="283.5" height="73"/><rect x="371" y="86.95" width="283.5" height="72.95"/><rect x="371" y="170.1" width="283.5" height="72.9"/><rect x="371" y="253.25" width="283.5" height="72.85"/><rect x="371" y="336.4" width="283.5" height="72.8"/></g>
<path d="M44 72.8h3M327.5 72.8h-3M44 66.96h1.6M327.5 66.96h-1.6M44 61.12h1.6M327.5 61.12h-1.6M44 55.28h1.6M327.5 55.28h-1.6M44 49.44h1.6M327.5 49.44h-1.6M44 43.6h3M327.5 43.6h-3M44 37.76h1.6M327.5 37.76h-1.6M44 31.92h1.6M327.5 31.92h-1.6M44 26.08h1.6M327.5 26.08h-1.6M44 20.24h1.6M327.5 20.24h-1.6M44 14.4h3M327.5 14.4h-3M44 8.56h1.6M327.5 8.56h-1.6M53.14 76.8v-1.6M53.14 3.8v1.6M62.28 76.8v-1.6M62.28 3.8v1.6M71.42 76.8v-1.6M71.42 3.8v1.6M80.57 76.8v-1.6M80.57 3.8v1.6M89.71 76.8v-1.6M89.71 3.8v1.6M98.85 76.8v-1.6M98.85 3.8v1.6M107.99 76.8v-1.6M107.99 3.8v1.6M117.13 76.8v-1.6M117.13 3.8v1.6M126.27 76.8v-1.6M126.27 3.8v1.6M135.41 76.8v-3M135.41 3.8v3M144.56 76.8v-1.6M144.56 3.8v1.6M153.7 76.8v-1.6M153.7 3.8v1.6M162.84 76.8v-1.6M162.84 3.8v1.6M171.98 76.8v-1.6M171.98 3.8v1.6M181.12 76.8v-1.6M181.12 3.8v1.6M190.26 76.8v-1.6M190.26 3.8v1.6M199.41 76.8v-1.6M199.41 3.8v1.6M208.55 76.8v-1.6M208.55 3.8v1.6M217.69 76.8v-1.6M217.69 3.8v1.6M226.83 76.8v-3M226.83 3.8v3M235.97 76.8v-1.6M235.97 3.8v1.6M245.11 76.8v-1.6M245.11 3.8v1.6M254.25 76.8v-1.6M254.25 3.8v1.6M263.4 76.8v-1.6M263.4 3.8v1.6M272.54 76.8v-1.6M272.54 3.8v1.6M281.68 76.8v-1.6M281.68 3.8v1.6M290.82 76.8v-1.6M290.82 3.8v1.6M299.96 76.8v-1.6M299.96 3.8v1.6M309.1 76.8v-1.6M309.1 3.8v1.6M318.25 76.8v-3M318.25 3.8v3M44 157.15h3M327.5 157.15h-3M44 151h1.6M327.5 151h-1.6M44 144.85h1.6M327.5 144.85h-1.6M44 138.7h1.6M327.5 138.7h-1.6M44 132.55h1.6M327.5 132.55h-1.6M44 126.4h3M327.5 126.4h-3M44 120.25h1.6M327.5 120.25h-1.6M44 114.1h1.6M327.5 114.1h-1.6M44 107.95h1.6M327.5 107.95h-1.6M44 101.8h1.6M327.5 101.8h-1.6M44 95.65h3M327.5 95.65h-3M44 89.5h1.6M327.5 89.5h-1.6M53.14 159.9v-1.6M53.14 86.95v1.6M62.28 159.9v-1.6M62.28 86.95v1.6M71.42 159.9v-1.6M71.42 86.95v1.6M80.57 159.9v-1.6M80.57 86.95v1.6M89.71 159.9v-1.6M89.71 86.95v1.6M98.85 159.9v-1.6M98.85 86.95v1.6M107.99 159.9v-1.6M107.99 86.95v1.6M117.13 159.9v-1.6M117.13 86.95v1.6M126.27 159.9v-1.6M126.27 86.95v1.6M135.41 159.9v-3M135.41 86.95v3M144.56 159.9v-1.6M144.56 86.95v1.6M153.7 159.9v-1.6M153.7 86.95v1.6M162.84 159.9v-1.6M162.84 86.95v1.6M171.98 159.9v-1.6M171.98 86.95v1.6M181.12 159.9v-1.6M181.12 86.95v1.6M190.26 159.9v-1.6M190.26 86.95v1.6M199.41 159.9v-1.6M199.41 86.95v1.6M208.55 159.9v-1.6M208.55 86.95v1.6M217.69 159.9v-1.6M217.69 86.95v1.6M226.83 159.9v-3M226.83 86.95v3M235.97 159.9v-1.6M235.97 86.95v1.6M245.11 159.9v-1.6M245.11 86.95v1.6M254.25 159.9v-1.6M254.25 86.95v1.6M263.4 159.9v-1.6M263.4 86.95v1.6M272.54 159.9v-1.6M272.54 86.95v1.6M281.68 159.9v-1.6M281.68 86.95v1.6M290.82 159.9v-1.6M290.82 86.95v1.6M299.96 159.9v-1.6M299.96 86.95v1.6M309.1 159.9v-1.6M309.1 86.95v1.6M318.25 159.9v-3M318.25 86.95v3M44 234.85h1.6M327.5 234.85h-1.6M44 225.4h3M327.5 225.4h-3M44 215.95h1.6M327.5 215.95h-1.6M44 206.5h3M327.5 206.5h-3M44 197.05h1.6M327.5 197.05h-1.6M44 187.6h3M327.5 187.6h-3M44 178.15h1.6M327.5 178.15h-1.6M53.14 243v-1.6M53.14 170.1v1.6M62.28 243v-1.6M62.28 170.1v1.6M71.42 243v-1.6M71.42 170.1v1.6M80.57 243v-1.6M80.57 170.1v1.6M89.71 243v-1.6M89.71 170.1v1.6M98.85 243v-1.6M98.85 170.1v1.6M107.99 243v-1.6M107.99 170.1v1.6M117.13 243v-1.6M117.13 170.1v1.6M126.27 243v-1.6M126.27 170.1v1.6M135.41 243v-3M135.41 170.1v3M144.56 243v-1.6M144.56 170.1v1.6M153.7 243v-1.6M153.7 170.1v1.6M162.84 243v-1.6M162.84 170.1v1.6M171.98 243v-1.6M171.98 170.1v1.6M181.12 243v-1.6M181.12 170.1v1.6M190.26 243v-1.6M190.26 170.1v1.6M199.41 243v-1.6M199.41 170.1v1.6M208.55 243v-1.6M208.55 170.1v1.6M217.69 243v-1.6M217.69 170.1v1.6M226.83 243v-3M226.83 170.1v3M235.97 243v-1.6M235.97 170.1v1.6M245.11 243v-1.6M245.11 170.1v1.6M254.25 243v-1.6M254.25 170.1v1.6M263.4 243v-1.6M263.4 170.1v1.6M272.54 243v-1.6M272.54 170.1v1.6M281.68 243v-1.6M281.68 170.1v1.6M290.82 243v-1.6M290.82 170.1v1.6M299.96 243v-1.6M299.96 170.1v1.6M309.1 243v-1.6M309.1 170.1v1.6M318.25 243v-3M318.25 170.1v3M44 321.4h1.6M327.5 321.4h-1.6M44 311.2h3M327.5 311.2h-3M44 301h1.6M327.5 301h-1.6M44 290.8h3M327.5 290.8h-3M44 280.6h1.6M327.5 280.6h-1.6M44 270.4h3M327.5 270.4h-3M44 260.2h1.6M327.5 260.2h-1.6M53.14 326.1v-1.6M53.14 253.25v1.6M62.28 326.1v-1.6M62.28 253.25v1.6M71.42 326.1v-1.6M71.42 253.25v1.6M80.57 326.1v-1.6M80.57 253.25v1.6M89.71 326.1v-1.6M89.71 253.25v1.6M98.85 326.1v-1.6M98.85 253.25v1.6M107.99 326.1v-1.6M107.99 253.25v1.6M117.13 326.1v-1.6M117.13 253.25v1.6M126.27 326.1v-1.6M126.27 253.25v1.6M135.41 326.1v-3M135.41 253.25v3M144.56 326.1v-1.6M144.56 253.25v1.6M153.7 326.1v-1.6M153.7 253.25v1.6M162.84 326.1v-1.6M162.84 253.25v1.6M171.98 326.1v-1.6M171.98 253.25v1.6M181.12 326.1v-1.6M181.12 253.25v1.6M190.26 326.1v-1.6M190.26 253.25v1.6M199.41 326.1v-1.6M199.41 253.25v1.6M208.55 326.1v-1.6M208.55 253.25v1.6M217.69 326.1v-1.6M217.69 253.25v1.6M226.83 326.1v-3M226.83 253.25v3M235.97 326.1v-1.6M235.97 253.25v1.6M245.11 326.1v-1.6M245.11 253.25v1.6M254.25 326.1v-1.6M254.25 253.25v1.6M263.4 326.1v-1.6M263.4 253.25v1.6M272.54 326.1v-1.6M272.54 253.25v1.6M281.68 326.1v-1.6M281.68 253.25v1.6M290.82 326.1v-1.6M290.82 253.25v1.6M299.96 326.1v-1.6M299.96 253.25v1.6M309.1 326.1v-1.6M309.1 253.25v1.6M318.25 326.1v-3M318.25 253.25v3M44 407.65h1.6M327.5 407.65h-1.6M44 395.4h3M327.5 395.4h-3M44 383.15h1.6M327.5 383.15h-1.6M44 370.9h3M327.5 370.9h-3M44 358.65h1.6M327.5 358.65h-1.6M44 346.4h3M327.5 346.4h-3M53.14 409.2v-1.6M53.14 336.4v1.6M62.28 409.2v-1.6M62.28 336.4v1.6M71.42 409.2v-1.6M71.42 336.4v1.6M80.57 409.2v-1.6M80.57 336.4v1.6M89.71 409.2v-1.6M89.71 336.4v1.6M98.85 409.2v-1.6M98.85 336.4v1.6M107.99 409.2v-1.6M107.99 336.4v1.6M117.13 409.2v-1.6M117.13 336.4v1.6M126.27 409.2v-1.6M126.27 336.4v1.6M135.41 409.2v-3M135.41 336.4v3M144.56 409.2v-1.6M144.56 336.4v1.6M153.7 409.2v-1.6M153.7 336.4v1.6M162.84 409.2v-1.6M162.84 336.4v1.6M171.98 409.2v-1.6M171.98 336.4v1.6M181.12 409.2v-1.6M181.12 336.4v1.6M190.26 409.2v-1.6M190.26 336.4v1.6M199.41 409.2v-1.6M199.41 336.4v1.6M208.55 409.2v-1.6M208.55 336.4v1.6M217.69 409.2v-1.6M217.69 336.4v1.6M226.83 409.2v-3M226.83 336.4v3M235.97 409.2v-1.6M235.97 336.4v1.6M245.11 409.2v-1.6M245.11 336.4v1.6M254.25 409.2v-1.6M254.25 336.4v1.6M263.4 409.2v-1.6M263.4 336.4v1.6M272.54 409.2v-1.6M272.54 336.4v1.6M281.68 409.2v-1.6M281.68 336.4v1.6M290.82 409.2v-1.6M290.82 336.4v1.6M299.96 409.2v-1.6M299.96 336.4v1.6M309.1 409.2v-1.6M309.1 336.4v1.6M318.25 409.2v-3M318.25 336.4v3M371 74.1h3M654.5 74.1h-3M371 67.12h1.6M654.5 67.12h-1.6M371 60.15h3M654.5 60.15h-3M371 53.18h1.6M654.5 53.18h-1.6M371 46.2h3M654.5 46.2h-3M371 39.23h1.6M654.5 39.23h-1.6M371 32.25h3M654.5 32.25h-3M371 25.28h1.6M654.5 25.28h-1.6M371 18.3h3M654.5 18.3h-3M371 11.33h1.6M654.5 11.33h-1.6M380.14 76.8v-1.6M380.14 3.8v1.6M389.28 76.8v-1.6M389.28 3.8v1.6M398.42 76.8v-1.6M398.42 3.8v1.6M407.57 76.8v-1.6M407.57 3.8v1.6M416.71 76.8v-1.6M416.71 3.8v1.6M425.85 76.8v-1.6M425.85 3.8v1.6M434.99 76.8v-1.6M434.99 3.8v1.6M444.13 76.8v-1.6M444.13 3.8v1.6M453.27 76.8v-1.6M453.27 3.8v1.6M462.41 76.8v-3M462.41 3.8v3M471.56 76.8v-1.6M471.56 3.8v1.6M480.7 76.8v-1.6M480.7 3.8v1.6M489.84 76.8v-1.6M489.84 3.8v1.6M498.98 76.8v-1.6M498.98 3.8v1.6M508.12 76.8v-1.6M508.12 3.8v1.6M517.26 76.8v-1.6M517.26 3.8v1.6M526.41 76.8v-1.6M526.41 3.8v1.6M535.55 76.8v-1.6M535.55 3.8v1.6M544.69 76.8v-1.6M544.69 3.8v1.6M553.83 76.8v-3M553.83 3.8v3M562.97 76.8v-1.6M562.97 3.8v1.6M572.11 76.8v-1.6M572.11 3.8v1.6M581.25 76.8v-1.6M581.25 3.8v1.6M590.4 76.8v-1.6M590.4 3.8v1.6M599.54 76.8v-1.6M599.54 3.8v1.6M608.68 76.8v-1.6M608.68 3.8v1.6M617.82 76.8v-1.6M617.82 3.8v1.6M626.96 76.8v-1.6M626.96 3.8v1.6M636.1 76.8v-1.6M636.1 3.8v1.6M645.25 76.8v-3M645.25 3.8v3M371 153.95h1.6M654.5 153.95h-1.6M371 147.8h3M654.5 147.8h-3M371 141.65h1.6M654.5 141.65h-1.6M371 135.5h3M654.5 135.5h-3M371 129.35h1.6M654.5 129.35h-1.6M371 123.2h3M654.5 123.2h-3M371 117.05h1.6M654.5 117.05h-1.6M371 110.9h3M654.5 110.9h-3M371 104.75h1.6M654.5 104.75h-1.6M371 98.6h3M654.5 98.6h-3M371 92.45h1.6M654.5 92.45h-1.6M380.14 159.9v-1.6M380.14 86.95v1.6M389.28 159.9v-1.6M389.28 86.95v1.6M398.42 159.9v-1.6M398.42 86.95v1.6M407.57 159.9v-1.6M407.57 86.95v1.6M416.71 159.9v-1.6M416.71 86.95v1.6M425.85 159.9v-1.6M425.85 86.95v1.6M434.99 159.9v-1.6M434.99 86.95v1.6M444.13 159.9v-1.6M444.13 86.95v1.6M453.27 159.9v-1.6M453.27 86.95v1.6M462.41 159.9v-3M462.41 86.95v3M471.56 159.9v-1.6M471.56 86.95v1.6M480.7 159.9v-1.6M480.7 86.95v1.6M489.84 159.9v-1.6M489.84 86.95v1.6M498.98 159.9v-1.6M498.98 86.95v1.6M508.12 159.9v-1.6M508.12 86.95v1.6M517.26 159.9v-1.6M517.26 86.95v1.6M526.41 159.9v-1.6M526.41 86.95v1.6M535.55 159.9v-1.6M535.55 86.95v1.6M544.69 159.9v-1.6M544.69 86.95v1.6M553.83 159.9v-3M553.83 86.95v3M562.97 159.9v-1.6M562.97 86.95v1.6M572.11 159.9v-1.6M572.11 86.95v1.6M581.25 159.9v-1.6M581.25 86.95v1.6M590.4 159.9v-1.6M590.4 86.95v1.6M599.54 159.9v-1.6M599.54 86.95v1.6M608.68 159.9v-1.6M608.68 86.95v1.6M617.82 159.9v-1.6M617.82 86.95v1.6M626.96 159.9v-1.6M626.96 86.95v1.6M636.1 159.9v-1.6M636.1 86.95v1.6M645.25 159.9v-3M645.25 86.95v3M371 234.2h3M654.5 234.2h-3M371 221.97h1.6M654.5 221.97h-1.6M371 209.75h3M654.5 209.75h-3M371 197.53h1.6M654.5 197.53h-1.6M371 185.3h3M654.5 185.3h-3M371 173.07h1.6M654.5 173.07h-1.6M380.14 243v-1.6M380.14 170.1v1.6M389.28 243v-1.6M389.28 170.1v1.6M398.42 243v-1.6M398.42 170.1v1.6M407.57 243v-1.6M407.57 170.1v1.6M416.71 243v-1.6M416.71 170.1v1.6M425.85 243v-1.6M425.85 170.1v1.6M434.99 243v-1.6M434.99 170.1v1.6M444.13 243v-1.6M444.13 170.1v1.6M453.27 243v-1.6M453.27 170.1v1.6M462.41 243v-3M462.41 170.1v3M471.56 243v-1.6M471.56 170.1v1.6M480.7 243v-1.6M480.7 170.1v1.6M489.84 243v-1.6M489.84 170.1v1.6M498.98 243v-1.6M498.98 170.1v1.6M508.12 243v-1.6M508.12 170.1v1.6M517.26 243v-1.6M517.26 170.1v1.6M526.41 243v-1.6M526.41 170.1v1.6M535.55 243v-1.6M535.55 170.1v1.6M544.69 243v-1.6M544.69 170.1v1.6M553.83 243v-3M553.83 170.1v3M562.97 243v-1.6M562.97 170.1v1.6M572.11 243v-1.6M572.11 170.1v1.6M581.25 243v-1.6M581.25 170.1v1.6M590.4 243v-1.6M590.4 170.1v1.6M599.54 243v-1.6M599.54 170.1v1.6M608.68 243v-1.6M608.68 170.1v1.6M617.82 243v-1.6M617.82 170.1v1.6M626.96 243v-1.6M626.96 170.1v1.6M636.1 243v-1.6M636.1 170.1v1.6M645.25 243v-3M645.25 170.1v3M371 316.7h1.6M654.5 316.7h-1.6M371 306.5h3M654.5 306.5h-3M371 296.3h1.6M654.5 296.3h-1.6M371 286.1h3M654.5 286.1h-3M371 275.9h1.6M654.5 275.9h-1.6M371 265.7h3M654.5 265.7h-3M371 255.5h1.6M654.5 255.5h-1.6M380.14 326.1v-1.6M380.14 253.25v1.6M389.28 326.1v-1.6M389.28 253.25v1.6M398.42 326.1v-1.6M398.42 253.25v1.6M407.57 326.1v-1.6M407.57 253.25v1.6M416.71 326.1v-1.6M416.71 253.25v1.6M425.85 326.1v-1.6M425.85 253.25v1.6M434.99 326.1v-1.6M434.99 253.25v1.6M444.13 326.1v-1.6M444.13 253.25v1.6M453.27 326.1v-1.6M453.27 253.25v1.6M462.41 326.1v-3M462.41 253.25v3M471.56 326.1v-1.6M471.56 253.25v1.6M480.7 326.1v-1.6M480.7 253.25v1.6M489.84 326.1v-1.6M489.84 253.25v1.6M498.98 326.1v-1.6M498.98 253.25v1.6M508.12 326.1v-1.6M508.12 253.25v1.6M517.26 326.1v-1.6M517.26 253.25v1.6M526.41 326.1v-1.6M526.41 253.25v1.6M535.55 326.1v-1.6M535.55 253.25v1.6M544.69 326.1v-1.6M544.69 253.25v1.6M553.83 326.1v-3M553.83 253.25v3M562.97 326.1v-1.6M562.97 253.25v1.6M572.11 326.1v-1.6M572.11 253.25v1.6M581.25 326.1v-1.6M581.25 253.25v1.6M590.4 326.1v-1.6M590.4 253.25v1.6M599.54 326.1v-1.6M599.54 253.25v1.6M608.68 326.1v-1.6M608.68 253.25v1.6M617.82 326.1v-1.6M617.82 253.25v1.6M626.96 326.1v-1.6M626.96 253.25v1.6M636.1 326.1v-1.6M636.1 253.25v1.6M645.25 326.1v-3M645.25 253.25v3M371 398.5h3M654.5 398.5h-3M371 387.18h1.6M654.5 387.18h-1.6M371 375.85h3M654.5 375.85h-3M371 364.53h1.6M654.5 364.53h-1.6M371 353.2h3M654.5 353.2h-3M371 341.88h1.6M654.5 341.88h-1.6M380.14 409.2v-1.6M380.14 336.4v1.6M389.28 409.2v-1.6M389.28 336.4v1.6M398.42 409.2v-1.6M398.42 336.4v1.6M407.57 409.2v-1.6M407.57 336.4v1.6M416.71 409.2v-1.6M416.71 336.4v1.6M425.85 409.2v-1.6M425.85 336.4v1.6M434.99 409.2v-1.6M434.99 336.4v1.6M444.13 409.2v-1.6M444.13 336.4v1.6M453.27 409.2v-1.6M453.27 336.4v1.6M462.41 409.2v-3M462.41 336.4v3M471.56 409.2v-1.6M471.56 336.4v1.6M480.7 409.2v-1.6M480.7 336.4v1.6M489.84 409.2v-1.6M489.84 336.4v1.6M498.98 409.2v-1.6M498.98 336.4v1.6M508.12 409.2v-1.6M508.12 336.4v1.6M517.26 409.2v-1.6M517.26 336.4v1.6M526.41 409.2v-1.6M526.41 336.4v1.6M535.55 409.2v-1.6M535.55 336.4v1.6M544.69 409.2v-1.6M544.69 336.4v1.6M553.83 409.2v-3M553.83 336.4v3M562.97 409.2v-1.6M562.97 336.4v1.6M572.11 409.2v-1.6M572.11 336.4v1.6M581.25 409.2v-1.6M581.25 336.4v1.6M590.4 409.2v-1.6M590.4 336.4v1.6M599.54 409.2v-1.6M599.54 336.4v1.6M608.68 409.2v-1.6M608.68 336.4v1.6M617.82 409.2v-1.6M617.82 336.4v1.6M626.96 409.2v-1.6M626.96 336.4v1.6M636.1 409.2v-1.6M636.1 336.4v1.6M645.25 409.2v-3M645.25 336.4v3" stroke="#3a3a3a" stroke-width="1" fill="none"/>
<g font-family="'Liberation Sans', sans-serif" font-size="12.4" fill="#000" stroke="#000" stroke-width="0.3"><text x="40.4" y="77.7" text-anchor="end">−10</text><text x="40.4" y="48.5" text-anchor="end">0</text><text x="40.4" y="19.3" text-anchor="end">10</text><text x="53" y="15.7" font-size="12.55">KOI 1902.01</text><text x="40.4" y="162.05" text-anchor="end">−50</text><text x="40.4" y="131.3" text-anchor="end">0</text><text x="40.4" y="100.55" text-anchor="end">50</text><text x="53" y="98.85" font-size="12.55">KOI 1934.01</text><text x="40.4" y="230.3" text-anchor="end">−50</text><text x="40.4" y="211.4" text-anchor="end">0</text><text x="40.4" y="192.5" text-anchor="end">50</text><text x="53" y="182" font-size="12.55">KOI 1955.02</text><text x="180.5" y="182" font-size="12.6">Kepler342d</text><text x="40.4" y="316.1" text-anchor="end">−50</text><text x="40.4" y="295.7" text-anchor="end">0</text><text x="40.4" y="275.3" text-anchor="end">50</text><text x="53" y="265.15" font-size="12.55">KOI 1973.01</text><text x="40.4" y="400.3" text-anchor="end">−100</text><text x="40.4" y="375.8" text-anchor="end">0</text><text x="40.4" y="351.3" text-anchor="end">100</text><text x="53" y="348.3" font-size="12.55">KOI 2038.01</text><text x="180.5" y="348.3" font-size="12.6">Kepler85b</text><text x="367.6" y="79" text-anchor="end">−40</text><text x="367.6" y="65.05" text-anchor="end">−20</text><text x="367.6" y="51.1" text-anchor="end">0</text><text x="367.6" y="37.15" text-anchor="end">20</text><text x="367.6" y="23.2" text-anchor="end">40</text><text x="367.6" y="9.25" text-anchor="end">60</text><text x="380" y="15.7" font-size="12.55">KOI 1907.01</text><text x="367.6" y="152.7" text-anchor="end">−30</text><text x="367.6" y="140.4" text-anchor="end">−20</text><text x="367.6" y="128.1" text-anchor="end">−10</text><text x="367.6" y="115.8" text-anchor="end">0</text><text x="367.6" y="103.5" text-anchor="end">10</text><text x="380" y="98.85" font-size="12.55">KOI 1938.01</text><text x="367.6" y="239.1" text-anchor="end">−50</text><text x="367.6" y="214.65" text-anchor="end">0</text><text x="367.6" y="190.2" text-anchor="end">50</text><text x="380" y="182" font-size="12.55">KOI 1955.04</text><text x="507.5" y="182" font-size="12.6">Kepler342c</text><text x="367.6" y="311.4" text-anchor="end">−20</text><text x="367.6" y="291" text-anchor="end">0</text><text x="367.6" y="270.6" text-anchor="end">20</text><text x="380" y="265.15" font-size="12.55">KOI 1989.01</text><text x="367.6" y="403.4" text-anchor="end">−100</text><text x="367.6" y="380.75" text-anchor="end">0</text><text x="367.6" y="358.1" text-anchor="end">100</text><text x="380" y="348.3" font-size="12.55">KOI 2038.02</text><text x="507.5" y="348.3" font-size="12.6">Kepler85c</text><text x="44" y="423.6" text-anchor="middle">0</text><text x="135.41" y="423.6" text-anchor="middle">500</text><text x="226.83" y="423.6" text-anchor="middle">1000</text><text x="318.25" y="423.6" text-anchor="middle">1500</text><text x="371" y="423.6" text-anchor="middle">0</text><text x="462.41" y="423.6" text-anchor="middle">500</text><text x="553.83" y="423.6" text-anchor="middle">1000</text><text x="645.25" y="423.6" text-anchor="middle">1500</text>
<text x="261.8" y="448.2" font-size="19" textLength="196.5" lengthAdjust="spacingAndGlyphs">Time [BJD −2454900]</text>
<text transform="translate(14.6 247.3) rotate(-90)" font-size="19.6" textLength="85" lengthAdjust="spacingAndGlyphs">O−C [min]</text>
</g>
</svg></body></html>
